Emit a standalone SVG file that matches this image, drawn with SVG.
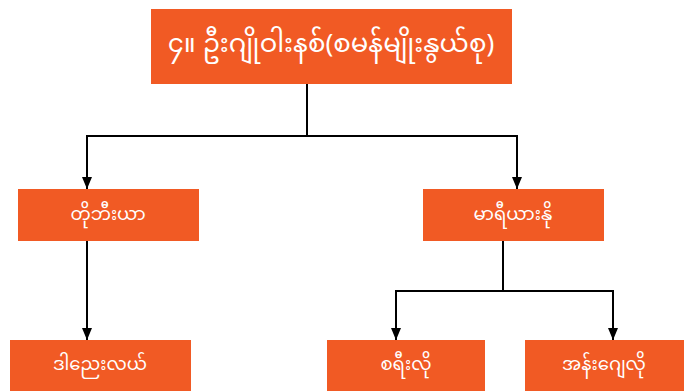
<svg xmlns="http://www.w3.org/2000/svg" width="684" height="391" viewBox="0 0 684 391">
<style>
.box{fill:#F15A24}
.t{fill:#fff;font-family:"Noto Sans Myanmar","Padauk","Myanmar Text","Noto Sans","DejaVu Sans",sans-serif;text-anchor:middle;dominant-baseline:central}
.t1{font-size:26px}
.t2{font-size:18px}
.c{stroke:#000;stroke-width:2;fill:none}
</style>
<defs>
<marker id="ah" markerWidth="12" markerHeight="10" refX="12" refY="5" orient="auto" markerUnits="userSpaceOnUse" viewBox="0 0 12 10">
<path d="M0,0 L12,5 L0,10 Z" fill="#000"/>
</marker>
</defs>
<g id="connectors">
<path class="c" d="M307,84 V136 M86,136 H518"/>
<path class="c" d="M87,136 V189" marker-end="url(#ah)"/>
<path class="c" d="M517,136 V189" marker-end="url(#ah)"/>
<path class="c" d="M87,241 V340" marker-end="url(#ah)"/>
<path class="c" d="M503,241 V291 M395,291 H614"/>
<path class="c" d="M396,291 V340" marker-end="url(#ah)"/>
<path class="c" d="M613,291 V340" marker-end="url(#ah)"/>
</g>
<g id="root">
<rect class="box" x="151" y="9" width="361" height="75"/>
<text class="t t1" x="331" y="46">၄။ ဦးဂျိုဝါးနစ်(စမန်မျိုးနွယ်စု)</text>
</g>
<g id="tobia">
<rect class="box" x="18" y="189" width="181" height="52"/>
<text class="t t2" x="108" y="215">တိုဘီးယာ</text>
</g>
<g id="mariano">
<rect class="box" x="423" y="189" width="181" height="52"/>
<text class="t t2" x="513" y="215">မာရီယားနို</text>
</g>
<g id="daniele">
<rect class="box" x="10" y="340" width="181" height="51"/>
<text class="t t2" x="100" y="365">ဒါညေးလယ်</text>
</g>
<g id="saverio">
<rect class="box" x="327" y="340" width="158" height="51"/>
<text class="t t2" x="406" y="365">စရီးလို</text>
</g>
<g id="angelo">
<rect class="box" x="525" y="340" width="159" height="51"/>
<text class="t t2" x="604" y="365">အန်းဂျေလို</text>
</g>
</svg>
